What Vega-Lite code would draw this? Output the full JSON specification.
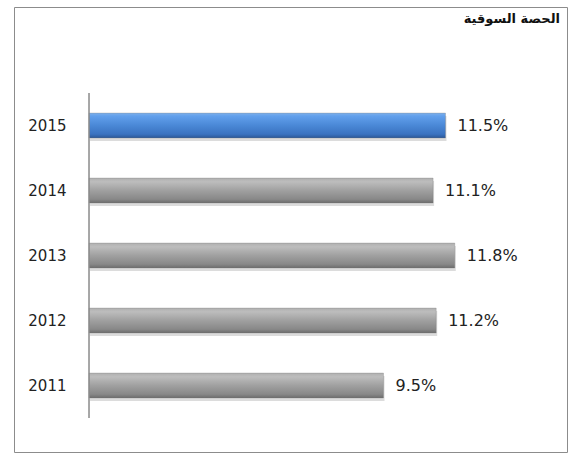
{
  "$schema": "https://vega.github.io/schema/vega-lite/v6.json",
  "width": 553,
  "height": 445,
  "autosize": "none",
  "padding": {"left": 14, "top": 7, "right": 6, "bottom": 1},
  "background": "white",
  "config": {"view": {"stroke": "#8c8c8c", "strokeWidth": 1}, "font": "DejaVu Sans"},
  "title": {
    "text": "الحصة السوقية",
    "anchor": "end",
    "frame": "group",
    "offset": -19,
    "dx": -7,
    "font": "DejaVu Sans",
    "fontSize": 13,
    "fontWeight": "bold",
    "color": "#111"
  },
  "data": {
    "values": [
      {"year": "2015", "share": 0.115},
      {"year": "2014", "share": 0.111},
      {"year": "2013", "share": 0.118},
      {"year": "2012", "share": 0.112},
      {"year": "2011", "share": 0.095}
    ]
  },
  "encoding": {
    "y": {
      "field": "year",
      "type": "ordinal",
      "sort": ["2015", "2014", "2013", "2012", "2011"],
      "scale": {"range": [86, 411], "paddingInner": 0.617, "paddingOuter": 0.3085},
      "axis": {
        "title": null,
        "orient": "left",
        "offset": -75,
        "domain": false,
        "ticks": false,
        "labelPadding": 23,
        "labelFontSize": 15,
        "labelColor": "#222",
        "labelFont": "DejaVu Sans"
      }
    }
  },
  "layer": [
    {
      "mark": {"type": "bar", "yOffset": 3, "xOffset": 1, "color": "#9a9a9a", "opacity": 0.35},
      "encoding": {
        "x": {
          "field": "share",
          "type": "quantitative",
          "scale": {"domain": [-0.0242, 0.1542], "nice": false, "zero": false},
          "axis": null
        }
      }
    },
    {
      "mark": {"type": "bar", "stroke": "#7a7a7a", "strokeWidth": 0.5, "strokeOpacity": 0.6},
      "encoding": {
        "x": {"field": "share", "type": "quantitative"},
        "color": {
          "condition": {
            "test": "datum.year === '2015'",
            "value": {
              "gradient": "linear", "x1": 0, "y1": 0, "x2": 0, "y2": 1,
              "stops": [
                {"offset": 0, "color": "#7fb0ea"},
                {"offset": 0.12, "color": "#62a0ec"},
                {"offset": 0.5, "color": "#4a88d6"},
                {"offset": 0.85, "color": "#3a72c0"},
                {"offset": 1, "color": "#2b5796"}
              ]
            }
          },
          "value": {
            "gradient": "linear", "x1": 0, "y1": 0, "x2": 0, "y2": 1,
            "stops": [
              {"offset": 0, "color": "#b0b0b0"},
              {"offset": 0.15, "color": "#bdbdbd"},
              {"offset": 0.5, "color": "#a0a0a0"},
              {"offset": 0.85, "color": "#888888"},
              {"offset": 1, "color": "#6c6c6c"}
            ]
          }
        }
      }
    },
    {
      "mark": {"type": "tick", "size": 65, "thickness": 1.5, "color": "#8a8a8a", "opacity": 1},
      "encoding": {
        "x": {"datum": 0, "type": "quantitative"}
      }
    },
    {
      "mark": {"type": "text", "align": "left", "baseline": "middle", "dx": 12, "fontSize": 16, "font": "DejaVu Sans", "color": "#222"},
      "encoding": {
        "x": {"field": "share", "type": "quantitative"},
        "text": {"field": "share", "type": "quantitative", "format": ".1%"}
      }
    }
  ]
}
